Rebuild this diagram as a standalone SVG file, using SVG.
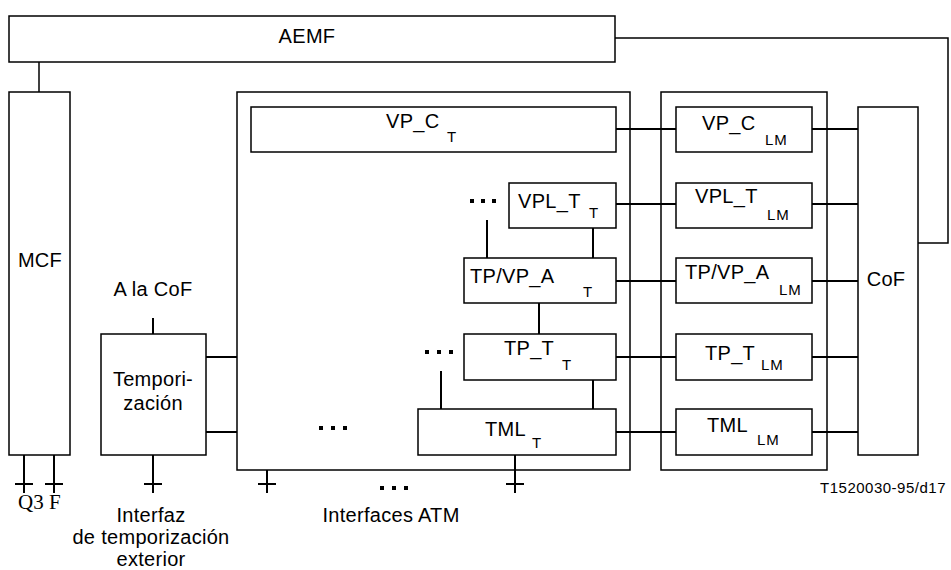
<svg xmlns="http://www.w3.org/2000/svg" width="951" height="570" viewBox="0 0 951 570">
<style>
.box{fill:#fff;stroke:#000;stroke-width:1.5}
.ln{fill:none;stroke:#000;stroke-width:2}
.thin{fill:none;stroke:#000;stroke-width:1.5}
text{font-family:"Liberation Sans",Arial,sans-serif;font-size:20px;fill:#000;letter-spacing:0.3px}
.c{text-anchor:middle}
.sub{font-size:15px;letter-spacing:0.8px}
.serif{font-family:"Liberation Serif","Times New Roman",serif;font-size:21px;letter-spacing:0}
.fn{font-size:15px;letter-spacing:0.5px;text-anchor:end}
</style>
<rect width="951" height="570" fill="#fff"/>
<g id="connectors">
<polyline class="thin" points="615,38 948,38 948,243 918,243"/>
<line class="thin" x1="39" y1="62" x2="39" y2="92"/>
<line class="ln" x1="153" y1="318" x2="153" y2="334"/>
<line class="ln" x1="206" y1="357" x2="237" y2="357"/>
<line class="ln" x1="206" y1="432" x2="237" y2="432"/>
<line class="ln" x1="616" y1="129" x2="676" y2="129"/>
<line class="ln" x1="616" y1="204" x2="676" y2="204"/>
<line class="ln" x1="616" y1="281" x2="676" y2="281"/>
<line class="ln" x1="616" y1="357" x2="676" y2="357"/>
<line class="ln" x1="616" y1="432" x2="676" y2="432"/>
<line class="ln" x1="812" y1="129" x2="858" y2="129"/>
<line class="ln" x1="812" y1="204" x2="858" y2="204"/>
<line class="ln" x1="812" y1="281" x2="858" y2="281"/>
<line class="ln" x1="812" y1="357" x2="858" y2="357"/>
<line class="ln" x1="812" y1="432" x2="858" y2="432"/>
<line class="ln" x1="487" y1="220" x2="487" y2="258"/>
<line class="ln" x1="593" y1="228" x2="593" y2="258"/>
<line class="ln" x1="539" y1="303" x2="539" y2="334"/>
<line class="ln" x1="441" y1="371" x2="441" y2="409"/>
<line class="ln" x1="593" y1="380" x2="593" y2="409"/>
<line class="ln" x1="24" y1="455" x2="24" y2="493"/>
<line class="ln" x1="15" y1="484" x2="33" y2="484"/>
<line class="ln" x1="54" y1="455" x2="54" y2="493"/>
<line class="ln" x1="45" y1="484" x2="63" y2="484"/>
<line class="ln" x1="153" y1="455" x2="153" y2="493"/>
<line class="ln" x1="144" y1="484" x2="162" y2="484"/>
<line class="ln" x1="267" y1="470" x2="267" y2="493"/>
<line class="ln" x1="258" y1="484" x2="276" y2="484"/>
<line class="ln" x1="515" y1="455" x2="515" y2="493"/>
<line class="ln" x1="506" y1="484" x2="524" y2="484"/>
</g>
<g id="dots">
<rect x="470" y="199" width="4" height="4"/><rect x="481" y="199" width="4" height="4"/><rect x="492" y="199" width="4" height="4"/>
<rect x="425" y="350" width="4" height="4"/><rect x="437" y="350" width="4" height="4"/><rect x="449" y="350" width="4" height="4"/>
<rect x="319" y="426" width="4" height="4"/><rect x="331" y="426" width="4" height="4"/><rect x="343" y="426" width="4" height="4"/>
<rect x="380" y="486" width="4" height="4"/><rect x="392" y="486" width="4" height="4"/><rect x="404" y="486" width="4" height="4"/>
</g>
<g id="aemf"><rect class="box" x="9" y="16" width="606" height="46"/><text class="c" x="307" y="43">AEMF</text></g>
<g id="mcf"><rect class="box" x="9" y="92" width="61" height="363"/><text class="c" x="40" y="267">MCF</text></g>
<g id="temporizacion"><rect class="box" x="101" y="334" width="105" height="121"/><text class="c" x="153" y="386">Tempori-</text><text class="c" x="153" y="410">zación</text></g>
<g id="tfunctions"><rect class="thin" x="237" y="92" width="393" height="378"/></g>
<g id="lmfunctions"><rect class="thin" x="661" y="92" width="166" height="378"/></g>
<g id="vpc_t"><rect class="box" x="251" y="107" width="365" height="45"/><text x="386" y="128">VP_C</text><text class="sub" x="447" y="142">T</text></g>
<g id="vplt_t"><rect class="box" x="509" y="183" width="107" height="45"/><text x="518" y="208">VPL_T</text><text class="sub" x="589" y="218">T</text></g>
<g id="tpvpa_t"><rect class="box" x="464" y="258" width="152" height="45"/><text x="470" y="283">TP/VP_A</text><text class="sub" x="583" y="297">T</text></g>
<g id="tpt_t"><rect class="box" x="464" y="334" width="152" height="46"/><text x="504" y="355">TP_T</text><text class="sub" x="562" y="370">T</text></g>
<g id="tml_t"><rect class="box" x="418" y="409" width="198" height="46"/><text x="485" y="436">TML</text><text class="sub" x="532" y="448">T</text></g>
<g id="vpc_lm"><rect class="box" x="676" y="107" width="136" height="45"/><text x="702" y="130">VP_C</text><text class="sub" x="765" y="145">LM</text></g>
<g id="vplt_lm"><rect class="box" x="676" y="183" width="136" height="45"/><text x="695" y="203">VPL_T</text><text class="sub" x="767" y="220">LM</text></g>
<g id="tpvpa_lm"><rect class="box" x="676" y="258" width="136" height="45"/><text x="685" y="279">TP/VP_A</text><text class="sub" x="779" y="295">LM</text></g>
<g id="tpt_lm"><rect class="box" x="676" y="334" width="136" height="46"/><text x="705" y="360">TP_T</text><text class="sub" x="761" y="370">LM</text></g>
<g id="tml_lm"><rect class="box" x="676" y="409" width="136" height="46"/><text x="707" y="432">TML</text><text class="sub" x="757" y="445">LM</text></g>
<g id="cof"><rect class="box" x="858" y="107" width="60" height="348"/><text class="c" x="886" y="286">CoF</text></g>
<g id="labels">
<text class="c" x="153" y="296">A la CoF</text>
<text class="serif" x="18" y="509">Q3</text>
<text class="serif" x="49" y="509">F</text>
<text class="c" x="151" y="522">Interfaz</text>
<text class="c" x="151" y="544">de temporización</text>
<text class="c" x="151" y="566">exterior</text>
<text class="c" x="391" y="522">Interfaces ATM</text>
<text class="fn" x="946" y="493">T1520030-95/d17</text>
</g>
</svg>
